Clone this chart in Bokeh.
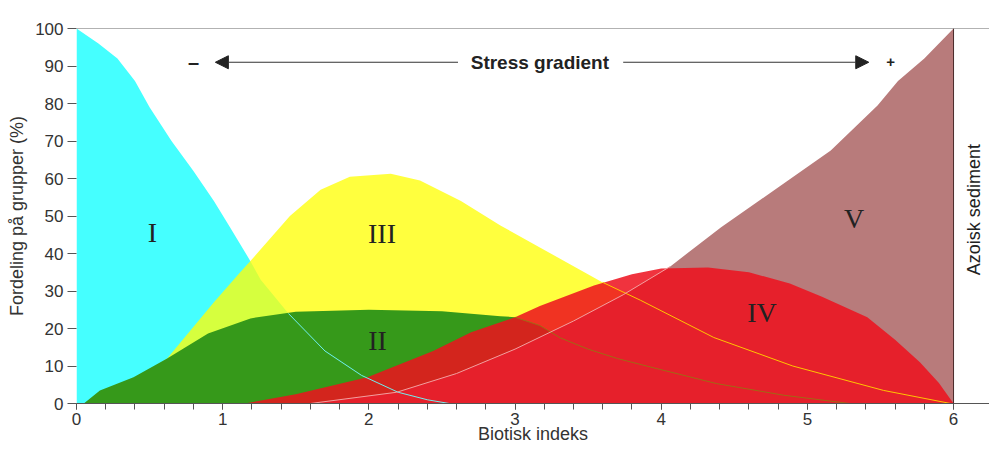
import numpy as np
from bokeh.plotting import figure
from bokeh.models import Range1d, Span, Label, Arrow, NormalHead, FixedTicker, ColumnDataSource
from bokeh.core.properties import value
from bokeh.embed import file_html
from bokeh.resources import INLINE

# ---------------- data ----------------
# Group I (cyan)
x_I = [0.0, 0.15, 0.28, 0.4, 0.5, 0.65, 0.8, 0.94, 1.05, 1.18, 1.26, 1.45, 1.7, 1.95, 2.2, 2.4, 2.55]
y_I = [100, 96, 92, 86, 79, 70, 62, 54, 47, 38.6, 33, 24, 14, 7.5, 3, 1, 0]

# Group II (green)
x_II = [0.05, 0.16, 0.39, 0.62, 0.9, 1.19, 1.5, 2.0, 2.5, 2.9, 3.0, 3.17, 3.31, 3.5, 3.7, 3.93, 4.38, 4.84, 5.29]
y_II = [0, 3.5, 7, 12, 18.7, 22.7, 24.5, 25, 24.6, 23.3, 23, 20.8, 17.5, 14.5, 12, 9.7, 5.3, 2.2, 0]

# Group III (yellow)
x_III = [0.1, 0.39, 0.62, 0.94, 1.12, 1.19, 1.46, 1.67, 1.87, 2.15, 2.35, 2.63, 2.9, 3.17, 3.6, 3.86, 4.36, 4.9, 5.52, 5.98]
y_III = [0, 6, 12, 27, 35, 38, 50, 57, 60.5, 61.3, 59.5, 54, 47.5, 41.6, 32.3, 27.5, 17.6, 10, 3.5, 0]

# Group IV (red)
x_IV = [1.15, 1.5, 1.99, 2.44, 2.7, 3.0, 3.17, 3.54, 3.8, 4.0, 4.32, 4.6, 4.88, 5.1, 5.41, 5.6, 5.77, 5.9, 6.0]
y_IV = [0, 2.5, 7, 14, 19, 23, 26, 31.5, 34.5, 36, 36.3, 35, 32, 28.5, 23, 17, 11, 5.5, 0]

# Group V (brown)
x_V = [1.6, 2.19, 2.6, 3.0, 3.4, 3.74, 4.06, 4.41, 4.77, 5.16, 5.48, 5.62, 5.8, 6.0]
y_V = [0, 3, 8, 14.5, 22, 29, 36.5, 47, 56.8, 67.5, 79.5, 86, 92, 100]

group_names = ["I", "II", "III", "IV", "V"]
name_x = [0.52, 2.06, 2.09, 4.69, 5.32]
name_y = [45.6, 16.8, 45.3, 24.3, 49.3]

x_ticks = [0, 1, 2, 3, 4, 5, 6]
y_ticks = [0, 10, 20, 30, 40, 50, 60, 70, 80, 90, 100]

# ---------------- helpers ----------------
def visible_run(x, y, tops, tol=0.6):
    """Longest contiguous part of a curve lying under the union of other areas."""
    x = np.asarray(x, float)
    y = np.asarray(y, float)
    top = np.max([np.interp(x, xt, yt, left=0, right=0) for xt, yt in tops], axis=0)
    m = list(y <= top + tol) + [False]
    best, start = (0, 0), None
    for i, v in enumerate(m):
        if v and start is None:
            start = i
        elif not v and start is not None:
            if i - start > best[1] - best[0]:
                best = (start, i)
            start = None
    return x[best[0]:best[1]], y[best[0]:best[1]]

FONT = "Liberation Sans"
TXT = "#333333"

p = figure(width=989, height=450,
           x_range=Range1d(0, 6.246), y_range=Range1d(0, 100),
           output_backend="svg", toolbar_location=None,
           min_border_left=76, min_border_top=28, min_border_right=0, min_border_bottom=47)
p.outline_line_color = None
p.grid.visible = False

# ---------------- areas ----------------
p.varea(x=x_I, y1=0, y2=y_I, fill_color="#45ffff", fill_alpha=1.0)
p.varea(x=x_III, y1=0, y2=y_III, fill_color="#ffff08", fill_alpha=0.78)
p.varea(x=x_II, y1=0, y2=y_II, fill_color="#36991a", fill_alpha=1.0)
p.varea(x=x_V, y1=0, y2=y_V, fill_color="#b87b7b", fill_alpha=1.0)
p.varea(x=x_IV, y1=0, y2=y_IV, fill_color="#ee121e", fill_alpha=0.86)

# ---------------- boundary lines visible through the overlapping areas ----------------
cx, cy = visible_run(x_I, y_I, [(x_II, y_II), (x_IV, y_IV)])
p.line(cx, cy, line_color="#6ff0f0", line_width=1)
gx, gy = visible_run(x_II, y_II, [(x_IV, y_IV)])
p.line(gx, gy, line_color="#a06a14", line_width=1)
yx, yy = visible_run(x_III, y_III, [(x_IV, y_IV)])
p.line(yx, yy, line_color="#ffc400", line_width=1)
vx, vy = visible_run(x_V, y_V, [(x_IV, y_IV)])
p.line(vx, vy, line_color="#f2a0a0", line_width=1)

# ---------------- frame lines ----------------
p.add_layout(Span(location=100, dimension="width", line_color="#666666", line_width=1))
p.add_layout(Span(location=6, dimension="height", line_color="#4a2a2a", line_width=1))

# ---------------- group labels ----------------
src = ColumnDataSource(dict(x=name_x, y=name_y, t=group_names))
p.text(x="x", y="y", text="t", source=src, text_font=value("Liberation Serif"),
       text_font_size="28px", text_color="#222222", text_align="center", text_baseline="middle")

# ---------------- stress gradient ----------------
ARROW_Y = 91
p.add_layout(Label(x=3.17, y=ARROW_Y, text="Stress gradient", text_font=FONT, text_font_style="bold",
                   text_font_size="19px", text_color="#222222", text_align="center", text_baseline="middle"))
p.add_layout(Arrow(x_start=2.61, y_start=ARROW_Y, x_end=0.95, y_end=ARROW_Y, line_color="#333333",
                   line_width=1.2, end=NormalHead(size=13, fill_color="#222222", line_color="#222222")))
p.add_layout(Arrow(x_start=3.74, y_start=ARROW_Y, x_end=5.42, y_end=ARROW_Y, line_color="#333333",
                   line_width=1.2, end=NormalHead(size=13, fill_color="#222222", line_color="#222222")))
p.add_layout(Label(x=0.8, y=ARROW_Y, text="\u2013", text_font=FONT, text_font_style="bold",
                   text_font_size="20px", text_color="#222222", text_align="center", text_baseline="middle"))
p.add_layout(Label(x=5.57, y=ARROW_Y, text="+", text_font=FONT, text_font_style="bold",
                   text_font_size="15px", text_color="#222222", text_align="center", text_baseline="middle"))

# ---------------- azoic sediment ----------------
p.add_layout(Label(x=6.143, y=51.7, text="Azoisk sediment", angle=np.pi / 2, text_font=FONT,
                   text_font_size="18px", text_color="#222222", text_align="center", text_baseline="middle"))

# ---------------- axes ----------------
p.xaxis.ticker = FixedTicker(ticks=x_ticks, minor_ticks=list(np.round(np.arange(0, 6.01, 0.2), 2)))
p.yaxis.ticker = FixedTicker(ticks=y_ticks)
p.xaxis.axis_label = "Biotisk indeks"
p.yaxis.axis_label = "Fordeling på grupper (%)"
for ax in (p.xaxis, p.yaxis):
    ax.axis_label_text_font = FONT
    ax.axis_label_text_font_size = "18px"
    ax.axis_label_text_font_style = "normal"
    ax.axis_label_text_color = TXT
    ax.major_label_text_font = FONT
    ax.major_label_text_font_size = "17px"
    ax.major_label_text_color = TXT
    ax.major_tick_line_color = "#555555"
    ax.minor_tick_line_color = "#555555"
    ax.major_tick_in = 0
    ax.minor_tick_in = 0
p.xaxis.axis_line_color = "#555555"
p.xaxis.major_tick_out = 6
p.xaxis.minor_tick_out = 6
p.xaxis.major_label_standoff = 3
p.xaxis.axis_label_standoff = -4
p.yaxis.axis_line_color = None
p.yaxis.major_tick_out = 9
p.yaxis.minor_tick_out = 0
p.yaxis.major_label_standoff = 4
p.yaxis.axis_label_standoff = 5

open("out.html", "w").write(file_html(p, INLINE))
